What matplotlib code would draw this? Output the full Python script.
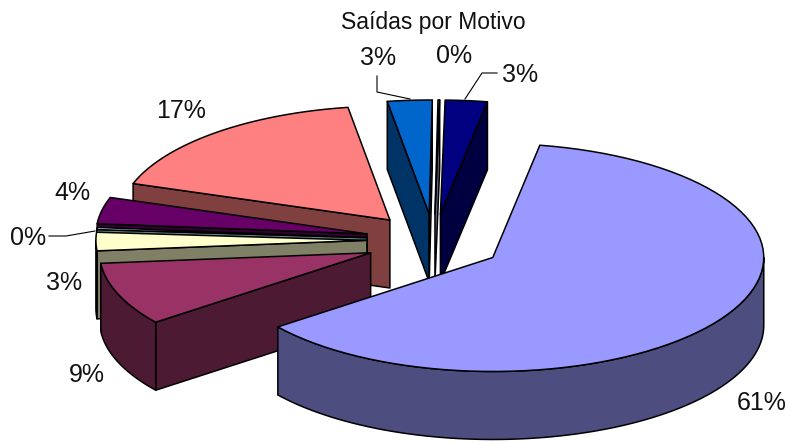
import numpy as np
import matplotlib
matplotlib.use("Agg")
import matplotlib.pyplot as plt

# slice values, clockwise from the first slice (labels are the rounded ones)
values = [61.8, 8.95, 2.6, 0.3, 3.75, 17.35, 2.65, 0.1, 2.5]
labels = ["61%", "9%", "3%", "0%", "4%", "17%", "3%", "0%", "3%"]
top_colors = ["#9999FF", "#993366", "#FFFFCC", "#CCFFFF", "#660066",
              "#FF8080", "#0066CC", "#CCCCFF", "#000080"]
side_colors = ["#4D4D80", "#4D1A33", "#808066", "#668080", "#330033",
               "#804040", "#003366", "#666680", "#000040"]
explode = [0.245, 0.259, 0.255, 0.255, 0.26, 0.264, 0.246, 0.246, 0.246]
# small shifts on top of the explode, in pixels
nudge_x = [0, 0, 0, 0, 0, 0, -2, -2, -2]
nudge_y = [3, 2, 0, 0, 0, 3, 2, 2, 2]

label_pos = [(762, 403), (87, 375), (64, 283), (28, 238), (72, 193),
             (181, 111), (378, 58), (454, 56), (520, 75)]
leaders = [[(465, 99), (482, 73), (497, 73)],
           [(410, 99), (377, 92), (377, 76)],
           [(49, 236), (66, 236), (95, 231)]]

# pie geometry in pixels
cx, cy = 436, 240
rx, ry = 271, 114
depth = 68
start_angle = 10.0


def pt(ax_x, ax_y, a, r=1.0):
    t = np.radians(a)
    return ax_x + r * rx * np.sin(t), ax_y - r * ry * np.cos(t)


def arc(x0, y0, a0, a1):
    t = np.linspace(a0, a1, 80)
    return pt(x0, y0, t)


plt.rcParams["font.family"] = ["Liberation Sans", "DejaVu Sans"]
fig = plt.figure(figsize=(7.9, 4.43), dpi=100)
ax = fig.add_axes([0, 0, 1, 1])
ax.set_xlim(0, 790)
ax.set_ylim(443, 0)
ax.axis("off")

fracs = np.array(values) / sum(values) * 360
ends = start_angle + np.cumsum(fracs)
starts = ends - fracs
mids = (starts + ends) / 2

# back slices first so the front ones cover them
order = np.argsort(-np.cos(np.radians(mids)))
edge = dict(edgecolor="black", linewidth=1.1, joinstyle="round")
for i in order:
    a0, a1 = starts[i], ends[i]
    x0, y0 = pt(cx, cy, mids[i], explode[i])
    x0 += nudge_x[i]
    y0 += nudge_y[i]

    # cut faces that look towards the viewer
    for a, show in [(a0, np.sin(np.radians(a0)) < 0), (a1, np.sin(np.radians(a1)) > 0)]:
        if show:
            xe, ye = pt(x0, y0, a)
            ax.fill([x0, xe, xe, x0], [y0, ye, ye + depth, y0 + depth],
                    facecolor=side_colors[i], **edge)

    # outer rim, only its front part
    r0, r1 = max(a0, 90), min(a1, 270)
    if r1 > r0:
        xs, ys = arc(x0, y0, r0, r1)
        ax.fill(np.r_[xs, xs[::-1]], np.r_[ys, ys[::-1] + depth],
                facecolor=side_colors[i], **edge)

    xs, ys = arc(x0, y0, a0, a1)
    ax.fill(np.r_[x0, xs], np.r_[y0, ys], facecolor=top_colors[i], **edge)

for lab, (x, y) in zip(labels, label_pos):
    ax.text(x, y, lab, fontsize=18, ha="center", va="center", color="#111111")

for line in leaders:
    ax.plot(*zip(*line), color="black", linewidth=0.8)

ax.text(433, 22, "Saídas por Motivo", fontsize=16.5, ha="center", va="center",
        color="#111111")

fig.savefig("out.png", dpi=100)
